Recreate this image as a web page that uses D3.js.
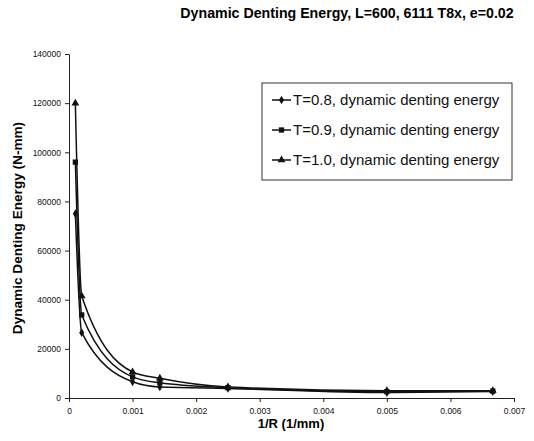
<!DOCTYPE html>
<html>
<head>
<meta charset="utf-8">
<script src="https://cdn.jsdelivr.net/npm/d3@7"></script>
<style>
  body { margin: 0; background: #fff; }
  svg { display: block; font-family: "Liberation Sans", Arial, sans-serif; }
</style>
</head>
<body>
<svg id="chart" width="534" height="441"></svg>
<script>
// Curvature 1/R (1/mm) at which the denting energy was computed
const curvature = [0.0001, 0.0002, 0.001, 0.001429, 0.0025, 0.005, 0.006667];

// Dynamic denting energy (N-mm) for each panel thickness T
const energyT08 = [75000, 26600, 6600, 4500, 3900, 2200, 2600];
const energyT09 = [96000, 33800, 8600, 6200, 4200, 2600, 2800];
const energyT10 = [120000, 41500, 10600, 8000, 4500, 3000, 3000];

const seriesNames = [
  "T=0.8, dynamic denting energy",
  "T=0.9, dynamic denting energy",
  "T=1.0, dynamic denting energy"
];
const markerKinds = ["diamond", "square", "triangle"];

const xTicks = [0, 0.001, 0.002, 0.003, 0.004, 0.005, 0.006, 0.007];
const yTicks = [0, 20000, 40000, 60000, 80000, 100000, 120000, 140000];

const series = [energyT08, energyT09, energyT10].map((vals, i) => ({
  name: seriesNames[i],
  marker: markerKinds[i],
  points: curvature.map((c, j) => ({ x: c, y: vals[j] }))
}));

const svg = d3.select("#chart");
const plot = { left: 69, right: 514, top: 54, bottom: 398 };

const x = d3.scaleLinear().domain([0, 0.007]).range([plot.left, plot.right]);
const y = d3.scaleLinear().domain([0, 140000]).range([plot.bottom, plot.top]);

// Title
svg.append("text")
  .attr("x", 347).attr("y", 18)
  .attr("text-anchor", "middle")
  .attr("font-size", 14.2).attr("font-weight", "bold")
  .text("Dynamic Denting Energy, L=600, 6111 T8x, e=0.02");

// Axes
const xAxis = d3.axisBottom(x).tickValues(xTicks)
  .tickFormat(d => d === 0 ? "0" : d3.format(".3f")(d))
  .tickSize(4).tickSizeOuter(0);
const yAxis = d3.axisLeft(y).tickValues(yTicks)
  .tickFormat(d3.format("d"))
  .tickSize(4).tickSizeOuter(0);

const gx = svg.append("g").attr("transform", `translate(0,${plot.bottom})`).call(xAxis);
const gy = svg.append("g").attr("transform", `translate(${plot.left},0)`).call(yAxis);

[gx, gy].forEach(g => {
  g.select(".domain").attr("stroke", "#222").attr("stroke-width", 1);
  g.selectAll(".tick line").attr("stroke", "#222");
  g.selectAll(".tick text").attr("fill", "#111")
    .attr("font-size", 8.5).attr("font-family", "Liberation Sans, Arial, sans-serif");
});
gx.selectAll(".tick text").attr("dy", "1.1em");
gy.selectAll(".tick text").attr("x", -8);

// Axis titles
svg.append("text")
  .attr("x", 291).attr("y", 428)
  .attr("text-anchor", "middle")
  .attr("font-size", 13).attr("font-weight", "bold")
  .text("1/R (1/mm)");

svg.append("text")
  .attr("transform", "translate(22,228) rotate(-90)")
  .attr("text-anchor", "middle")
  .attr("font-size", 13.6).attr("font-weight", "bold")
  .text("Dynamic Denting Energy (N-mm)");

// Marker shapes
const symbolType = {
  diamond: d3.symbolDiamond,
  square: d3.symbolSquare,
  triangle: d3.symbolTriangle
};
const symbolSize = { diamond: 22, square: 28, triangle: 26 };

const line = d3.line()
  .x(d => x(d.x)).y(d => y(d.y))
  .curve(d3.curveMonotoneX);

const gSeries = svg.append("g");
series.forEach(s => {
  gSeries.append("path")
    .attr("d", line(s.points))
    .attr("fill", "none")
    .attr("stroke", "#111")
    .attr("stroke-width", 1.5);
  gSeries.selectAll(null).data(s.points).enter().append("path")
    .attr("transform", d => `translate(${x(d.x)},${y(d.y)})`)
    .attr("d", d3.symbol().type(symbolType[s.marker]).size(symbolSize[s.marker]))
    .attr("fill", "#111");
});

// Legend
const legend = svg.append("g");
legend.append("rect")
  .attr("x", 262).attr("y", 83).attr("width", 250).attr("height", 97)
  .attr("fill", "#fff").attr("stroke", "#333").attr("stroke-width", 1);

series.forEach((s, i) => {
  const ly = 100 + i * 30;
  legend.append("line")
    .attr("x1", 272).attr("x2", 291).attr("y1", ly).attr("y2", ly)
    .attr("stroke", "#111").attr("stroke-width", 1.5);
  legend.append("path")
    .attr("transform", `translate(281.5,${ly})`)
    .attr("d", d3.symbol().type(symbolType[s.marker]).size(symbolSize[s.marker]))
    .attr("fill", "#111");
  legend.append("text")
    .attr("x", 293).attr("y", ly + 5)
    .attr("font-size", 15).attr("fill", "#111")
    .text(s.name);
});
</script>
</body>
</html>
